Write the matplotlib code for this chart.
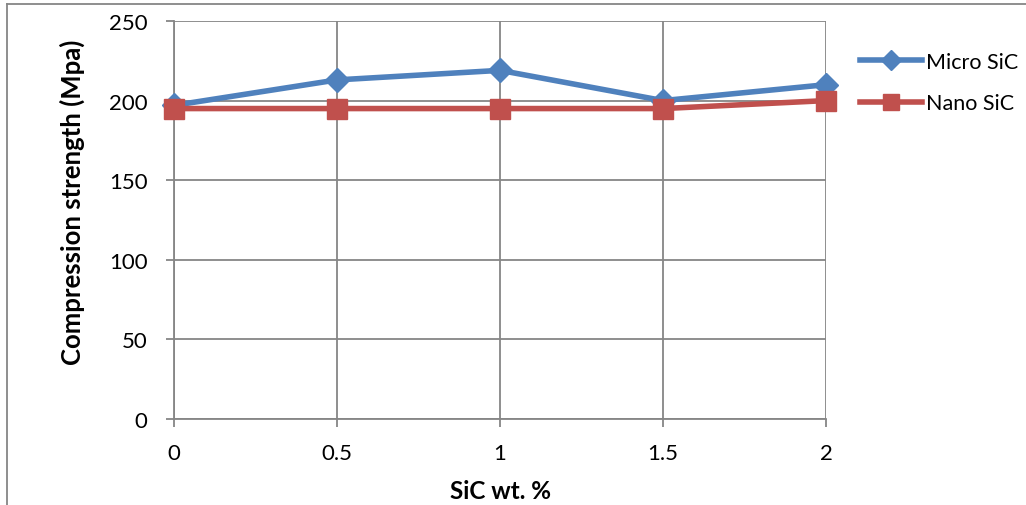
import matplotlib.pyplot as plt
from matplotlib.lines import Line2D

# values
sic_wt = [0, 0.5, 1, 1.5, 2]
micro_sic = [197, 213, 219, 200, 210]
nano_sic = [195, 195, 195, 195, 200]
y_ticks = [0, 50, 100, 150, 200, 250]
x_ticks = [0, 0.5, 1, 1.5, 2]
x_labels = ['0', '0.5', '1', '1.5', '2']

plt.rcParams['font.family'] = ['Lato', 'DejaVu Sans']

grey = '#868686'
blue = '#4F81BD'
red = '#C0504D'

fig = plt.figure(figsize=(10.26, 5.06), dpi=100)
fig.patch.set_facecolor('white')
ax = fig.add_axes([174 / 1026, 1 - 420 / 506, (826 - 174) / 1026, (420 - 22) / 506])

ax.plot(sic_wt, micro_sic, color=blue, lw=4, marker='D', markersize=12,
        markerfacecolor=blue, markeredgecolor=blue, label='Micro SiC', zorder=3,
        clip_on=False)
ax.plot(sic_wt, nano_sic, color=red, lw=4, marker='s', markersize=14,
        markerfacecolor=red, markeredgecolor=red, label='Nano SiC', zorder=4,
        clip_on=False)

ax.set_xlim(0, 2)
ax.set_ylim(0, 250)
ax.set_xticks(x_ticks)
ax.set_xticklabels(x_labels)
ax.set_yticks(y_ticks)
ax.grid(True, color=grey, lw=1.3)
ax.set_axisbelow(True)

for side in ['top', 'right']:
    ax.spines[side].set_visible(False)
for side in ['left', 'bottom']:
    ax.spines[side].set_color(grey)
    ax.spines[side].set_linewidth(1.3)

ax.tick_params(axis='both', direction='out', length=6, width=1.3, color=grey,
               labelsize=16, labelcolor='black')
ax.tick_params(axis='x', pad=11)
ax.tick_params(axis='y', pad=13)

ax.set_xlabel('SiC wt. %', fontsize=17.5, fontweight='bold', labelpad=12)
ax.set_ylabel('Compression strength (Mpa)', fontsize=18.5, fontweight='bold')
ax.yaxis.set_label_coords(-0.137, 0.548)

handles = [
    Line2D([], [], color=blue, lw=4, marker='D', markersize=10),
    Line2D([], [], color=red, lw=4, marker='s', markersize=12),
]
fig.legend(handles, ['Micro SiC', 'Nano SiC'], loc='upper left',
           bbox_to_anchor=(851 / 1026, 1 - 44 / 506), frameon=False,
           fontsize=15.5, handlelength=2.9, handletextpad=0.2,
           labelspacing=1.0, borderaxespad=0)

# outer chart frame (only left and top edges visible in the crop)
fig.add_artist(Line2D([7 / 1026, 7 / 1026], [0, 1 - 5 / 506],
                      transform=fig.transFigure, color=grey, lw=1.3))
fig.add_artist(Line2D([7 / 1026, 1], [1 - 5 / 506, 1 - 5 / 506],
                      transform=fig.transFigure, color=grey, lw=1.3))

fig.savefig('out.png', dpi=100, facecolor='white')
